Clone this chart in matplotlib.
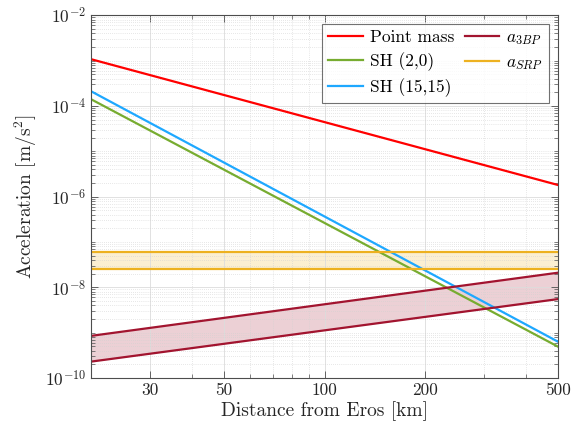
import matplotlib
matplotlib.use("Agg")
import matplotlib.pyplot as plt
from matplotlib.ticker import FixedLocator, FixedFormatter, LogLocator, NullFormatter, LogFormatterSciNotation

plt.rcParams.update({
    "font.family": "serif",
    "font.serif": ["cmr10", "DejaVu Serif"],
    "mathtext.fontset": "cm",
    "axes.formatter.use_mathtext": True,
    "axes.unicode_minus": False,
})

# Distance from Eros [km] (end points of each straight log-log line)
distance_km = [20, 500]

# Accelerations [m/s^2]
point_mass = [1.07e-3, 1.8e-6]
sh_2_0 = [1.4e-4, 4.9e-10]
sh_15_15 = [2.1e-4, 6.3e-10]
a3bp_low = [2.3e-10, 5.5e-9]
a3bp_high = [8.5e-10, 2.1e-8]
asrp_low = [2.5e-8, 2.5e-8]
asrp_high = [6.0e-8, 6.0e-8]

x_ticks = [30, 50, 100, 200, 500]
x_tick_labels = ["30", "50", "100", "200", "500"]

c_red = "#ff0000"
c_green = "#77ac30"
c_blue = "#1ea8ff"
c_maroon = "#a2142f"
c_yellow = "#edb120"

fig = plt.figure(figsize=(5.73, 4.34), dpi=100)
ax = fig.add_axes([0.159, 0.129, 0.815, 0.836])

lw = 1.6
ax.fill_between(distance_km, a3bp_low, a3bp_high, color=c_maroon, alpha=0.2, lw=0)
ax.fill_between(distance_km, asrp_low, asrp_high, color=c_yellow, alpha=0.2, lw=0)

h_pm, = ax.plot(distance_km, point_mass, color=c_red, lw=lw, label="Point mass")
h_20, = ax.plot(distance_km, sh_2_0, color=c_green, lw=lw, label="SH (2,0)")
h_1515, = ax.plot(distance_km, sh_15_15, color=c_blue, lw=lw, label="SH (15,15)")
h_3bp, = ax.plot(distance_km, a3bp_high, color=c_maroon, lw=lw, label=r"$a_{3BP}$")
ax.plot(distance_km, a3bp_low, color=c_maroon, lw=lw)
h_srp, = ax.plot(distance_km, asrp_high, color=c_yellow, lw=lw, label=r"$a_{SRP}$")
ax.plot(distance_km, asrp_low, color=c_yellow, lw=lw)

ax.set_xscale("log")
ax.set_yscale("log")
ax.set_xlim(20, 500)
ax.set_ylim(1e-10, 1e-2)

ax.xaxis.set_major_locator(FixedLocator(x_ticks))
ax.xaxis.set_major_formatter(FixedFormatter(x_tick_labels))
ax.xaxis.set_minor_locator(FixedLocator([20, 40, 60, 70, 80, 90, 300, 400]))
ax.xaxis.set_minor_formatter(NullFormatter())

ax.yaxis.set_major_locator(FixedLocator([1e-10, 1e-8, 1e-6, 1e-4, 1e-2]))
ax.yaxis.set_major_formatter(LogFormatterSciNotation())
ax.yaxis.set_minor_locator(LogLocator(base=10, subs=[1, 2, 3, 4, 5, 6, 7, 8, 9], numticks=40))
ax.yaxis.set_minor_formatter(NullFormatter())

spine_col = "#4d4d4d"
for s in ax.spines.values():
    s.set_color(spine_col)
    s.set_linewidth(0.8)

ax.tick_params(which="both", direction="in", top=True, right=True, colors=spine_col,
               labelcolor="#262626", labelsize=12.5)
ax.tick_params(which="major", length=5, width=0.6)
ax.tick_params(which="minor", length=3, width=0.5)

ax.grid(True, which="major", color="#dcdcdc", lw=0.6, ls="-")
ax.grid(True, which="minor", color="#d0d0d0", lw=0.5, ls=(0, (1, 2)))

ax.set_xlabel("Distance from Eros [km]", fontsize=14, color="#262626", labelpad=2)
ax.set_ylabel(r"Acceleration [m/s$^2$]", fontsize=14, color="#262626", labelpad=4)

leg = ax.legend(handles=[h_pm, h_20, h_1515, h_3bp, h_srp], ncol=2, loc="upper right",
                fontsize=12.5, frameon=True, fancybox=False, borderaxespad=0.5,
                handlelength=2.0, handletextpad=0.4, columnspacing=0.6,
                labelspacing=0.42, borderpad=0.35)
leg.get_frame().set_edgecolor(spine_col)
leg.get_frame().set_linewidth(0.8)

fig.savefig("out.png", dpi=100)
